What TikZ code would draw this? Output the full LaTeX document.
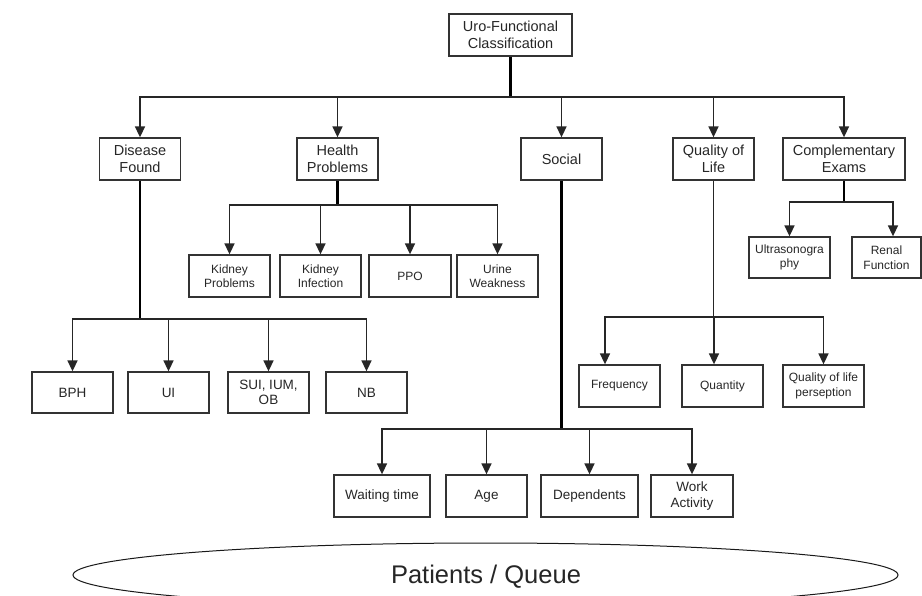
\documentclass[tikz,border=0pt]{standalone}
\usepackage{fontspec}
\setmainfont{Liberation Sans}
\usetikzlibrary{arrows.meta,shapes.geometric}
\begin{document}
\begin{tikzpicture}[x=1pt,y=-1pt,
  box/.style={draw=black!80, line width=1.3pt, inner sep=0pt, align=center, minimum height=42pt, minimum width=81pt, text=black!85},
  big/.style={font=\fontsize{14.5}{17.5}\selectfont},
  mid/.style={font=\fontsize{13.5}{15.5}\selectfont},
  sml/.style={font=\fontsize{12}{14.5}\selectfont},
  arr/.style={draw=black!85, line width=1.6pt, -{Triangle[width=10pt,length=11pt]}},
  ln/.style={draw=black!85, line width=1.6pt},
  trunk/.style={draw=black, line width=2.2pt}]
\useasboundingbox (0,0) rectangle (922,596);
% top
\node[box,big,minimum width=123pt] (uro) at (510.5,35) {Uro-Functional\\Classification};
% level 1
\node[box,big] (dis) at (140,159) {Disease\\Found};
\node[box,big] (hp) at (337.5,159) {Health\\Problems};
\node[box,big] (soc) at (561.5,159) {Social};
\node[box,big] (qol) at (713.5,159) {Quality of\\Life};
\node[box,big,minimum width=122pt] (ce) at (844,159) {Complementary\\Exams};
% health problems children
\node[box,sml] (kp) at (229.5,276) {Kidney\\Problems};
\node[box,sml] (ki) at (320.5,276) {Kidney\\Infection};
\node[box,sml,minimum width=82pt] (ppo) at (410,276) {PPO};
\node[box,sml] (uw) at (497.5,276) {Urine\\Weakness};
% complementary children
\node[box,sml,minimum height=41pt] (us) at (789.5,257.5) {Ultrasonogra\\phy};
\node[box,sml,minimum height=41pt,minimum width=69pt] (rf) at (886.5,257.5) {Renal\\Function};
% disease children
\node[box,mid,minimum height=41pt] (bph) at (72.5,392.5) {BPH};
\node[box,mid,minimum height=41pt] (ui) at (168.5,392.5) {UI};
\node[box,mid,minimum height=41pt] (sui) at (268.5,392.5) {SUI, IUM,\\OB};
\node[box,mid,minimum height=41pt] (nb) at (366.5,392.5) {NB};
% quality of life children
\node[box,sml] (fr) at (619.5,386) {Frequency};
\node[box,sml] (qt) at (722.5,386) {Quantity};
\node[box,sml] (qp) at (823.5,386) {Quality of life\\perseption};
% social children
\node[box,mid,minimum width=96pt] (wt) at (382,496) {Waiting time};
\node[box,mid] (age) at (486.5,496) {Age};
\node[box,mid,minimum width=97pt] (dep) at (589.5,496) {Dependents};
\node[box,mid,minimum width=82pt] (wa) at (692,496) {Work\\Activity};
% patients ellipse
\node[draw=black!90, line width=1pt, ellipse, minimum width=825pt, minimum height=64pt, inner sep=0pt] (pq) at (485.5,575) {};
\node[font=\fontsize{25.5}{28}\selectfont, anchor=base, text=black!85] (pqt) at (486,583) {Patients / Queue};
% junction coordinates
\coordinate (j0) at (510.5,97);
\coordinate (jhp) at (337.5,205);
\coordinate (jce) at (844,202);
\coordinate (jdis) at (140,319);
\coordinate (jqol) at (713.5,317);
\coordinate (jsoc) at (561.5,429);
% top level
\draw[trunk] (uro.south) -- (j0);
\draw[arr] (j0) -| (dis.north);
\draw[arr] (j0) -| (hp.north);
\draw[arr] (j0) -| (soc.north);
\draw[arr] (j0) -| (qol.north);
\draw[arr] (j0) -| (ce.north);
% health problems
\draw[trunk] (hp.south) -- (jhp);
\draw[arr] (jhp) -| (kp.north);
\draw[arr] (jhp) -| (ki.north);
\draw[arr] (jhp) -| (ppo.north);
\draw[arr] (jhp) -| (uw.north);
% complementary
\draw[trunk] (ce.south) -- (jce);
\draw[arr] (jce) -| (us.north);
\draw[arr] (jce) -| ([xshift=6.5pt]rf.north);
% disease
\draw[trunk] (dis.south) -- (jdis);
\draw[arr] (jdis) -| (bph.north);
\draw[arr] (jdis) -| (ui.north);
\draw[arr] (jdis) -| (sui.north);
\draw[arr] (jdis) -| (nb.north);
% quality of life
\draw[ln] (qol.south) -- (jqol);
\draw[arr] (jqol) -| ([xshift=-14.5pt]fr.north);
\draw[arr] (jqol) -| ([xshift=-8.5pt]qt.north);
\draw[arr] (jqol) -| (qp.north);
% social
\draw[trunk] (soc.south) -- (jsoc);
\draw[arr] (jsoc) -| (wt.north);
\draw[arr] (jsoc) -| (age.north);
\draw[arr] (jsoc) -| (dep.north);
\draw[arr] (jsoc) -| (wa.north);
\end{tikzpicture}
\end{document}
